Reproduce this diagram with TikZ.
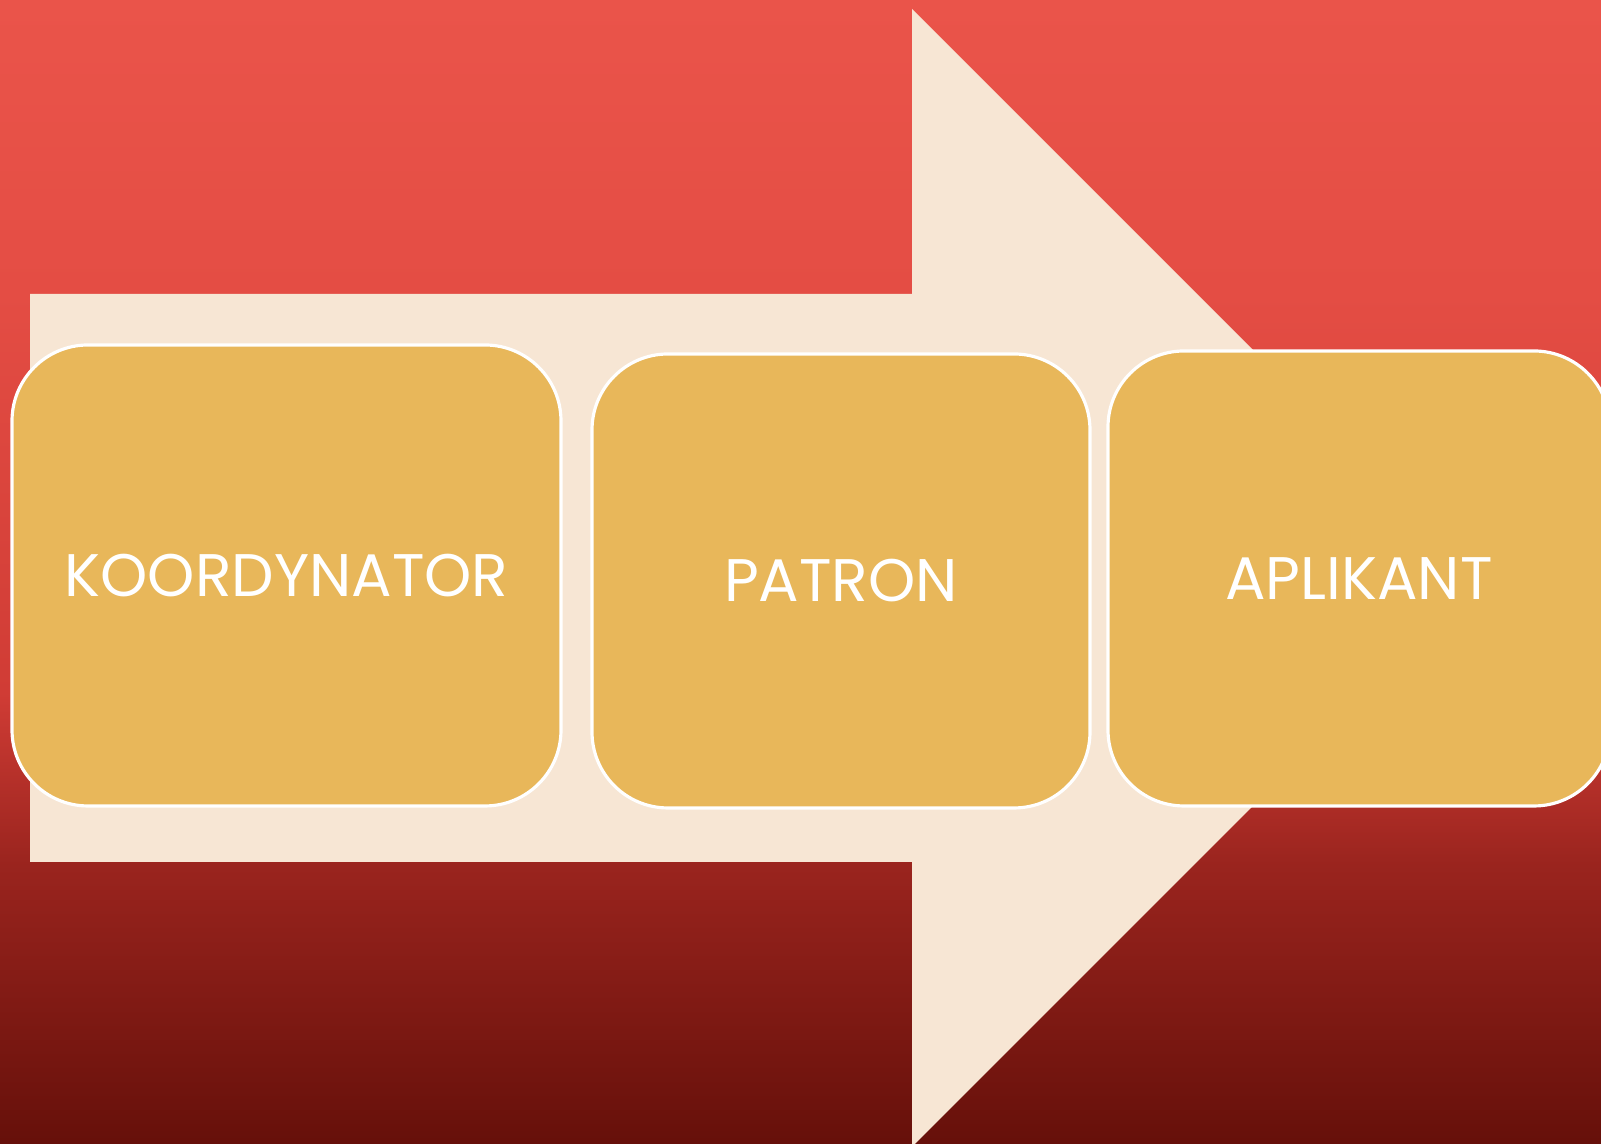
\documentclass[tikz,border=0pt]{standalone}
\usepackage{fontspec}
\setmainfont{Poppins}
\usepackage{tikz}
\usetikzlibrary{shapes, calc}
\usepackage{xcolor}
\definecolor{bgbottom}{HTML}{66100A}
\definecolor{bgdeep}{HTML}{9A241E}
\definecolor{bgmid}{HTML}{D03C35}
\definecolor{bgtop}{HTML}{E44D44}
\definecolor{bglight}{HTML}{EA544A}
\definecolor{arrowbeige}{HTML}{F7E6D4}
\definecolor{boxgold}{HTML}{E8B75A}
\pgfdeclareverticalshading{redback}{100bp}{color(0bp)=(bgbottom); color(25bp)=(bgbottom); color(37.2bp)=(bgdeep); color(44.7bp)=(bgmid); color(62.2bp)=(bgtop); color(75bp)=(bglight); color(100bp)=(bglight)}

\begin{document}
\begin{tikzpicture}[
    stage/.style={draw=white, line width=0.9pt, fill=boxgold, rounded corners=0.76cm,
        text=white, font=\fontsize{17.1pt}{20pt}\selectfont, inner sep=0pt}
]
    \useasboundingbox (0,0) rectangle (16.01,11.44);
    \clip (0,0) rectangle (16.01,11.44);

    % Red background
    \shade[shading=redback] (0,0) rectangle (16.01,11.44);

    % Big arrow behind the boxes
    \fill[arrowbeige] (0.30,2.82) -- (0.30,8.50) -- (9.12,8.50) -- (9.12,11.35)
        -- (14.81,5.66) -- (9.12,-0.03) -- (9.12,2.82) -- cycle;

    % Stages
    \node[stage, minimum width=5.49cm, minimum height=4.61cm] (koord) at (2.865,5.685) {KOORDYNATOR};
    \node[stage, minimum width=4.98cm, minimum height=4.54cm] (patron) at (8.41,5.63) {PATRON};
    \node[stage, minimum width=5.02cm, minimum height=4.55cm] (aplikant) at (13.59,5.655) {APLIKANT};
\end{tikzpicture}
\end{document}
